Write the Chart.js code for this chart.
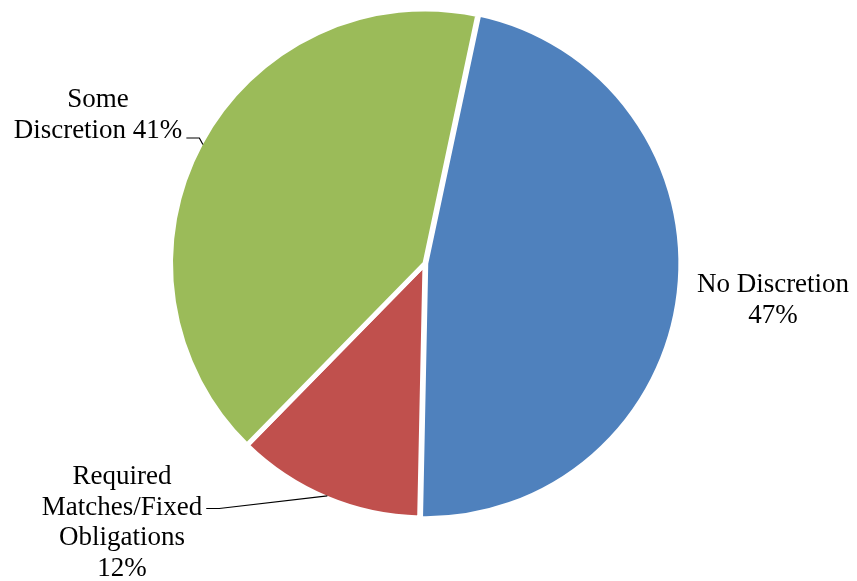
<!DOCTYPE html>
<html>
<head>
<meta charset="utf-8">
<script src="https://cdn.jsdelivr.net/npm/chart.js@4/dist/chart.umd.min.js"></script>
<style>
html,body{margin:0;padding:0;background:#fff;}
#wrap{width:857px;height:581px;position:relative;}
</style>
</head>
<body>
<div id="wrap"><canvas id="c" width="857" height="581"></canvas></div>
<script>
// Data
const categories = ["No Discretion", "Required Matches/Fixed Obligations", "Some Discretion"];
const values = [47, 12, 41];
const labelLines = [
  ["No Discretion", "47%"],
  ["Required", "Matches/Fixed", "Obligations", "12%"],
  ["Some", "Discretion 41%"]
];
const colors = ["#4F81BD", "#C0504D", "#9BBB59"];

// Label layout (text anchor centers, and leader line settings)
const labelLayout = [
  {x: 773, y: 285, lh: 31, leader: null},
  {x: 122, y: 477, lh: 30.5, leader: {line: 1, dy: 1}},
  {x: 98,  y: 100, lh: 31, leader: {line: 1, dy: 7}}
];

const FONT = "27px 'Liberation Serif', 'Times New Roman', serif";

const labelPlugin = {
  id: 'pieLabels',
  afterDraw(chart) {
    const ctx = chart.ctx;
    const meta = chart.getDatasetMeta(0);
    ctx.save();
    ctx.font = FONT;
    ctx.fillStyle = "#000";
    ctx.textAlign = "center";
    ctx.textBaseline = "middle";
    meta.data.forEach((arc, i) => {
      const L = labelLayout[i];
      const lines = labelLines[i];
      lines.forEach((t, k) => ctx.fillText(t, L.x, L.y + k * L.lh));
      if (L.leader) {
        const p = arc.getProps(['x','y','startAngle','endAngle','outerRadius'], true);
        const mid = (p.startAngle + p.endAngle) / 2;
        const r = p.outerRadius - 2.5;
        const ex = p.x + Math.cos(mid) * r;
        const ey = p.y + Math.sin(mid) * r;
        const t = lines[L.leader.line];
        const w = ctx.measureText(t).width;
        const sx = L.x + w / 2 + 4;
        const sy = L.y + L.leader.line * L.lh + L.leader.dy;
        ctx.beginPath();
        ctx.strokeStyle = "#000";
        ctx.lineWidth = 1.2;
        ctx.moveTo(sx, sy);
        ctx.lineTo(sx + 13, sy);
        ctx.lineTo(ex, ey);
        ctx.stroke();
      }
    });
    ctx.restore();
  }
};

new Chart(document.getElementById('c'), {
  type: 'pie',
  data: {
    labels: categories,
    datasets: [{
      data: values,
      backgroundColor: colors,
      borderColor: "#ffffff",
      borderWidth: 5,
      offset: [3, 0, 0],
      hoverOffset: 0
    }]
  },
  options: {
    responsive: false,
    animation: false,
    rotation: 12,
    radius: 254.5,
    layout: {padding: {left: 0, right: 7, top: 0, bottom: 54}},
    plugins: {
      legend: {display: false},
      tooltip: {enabled: false}
    },
    events: []
  },
  plugins: [labelPlugin]
});
</script>
</body>
</html>
